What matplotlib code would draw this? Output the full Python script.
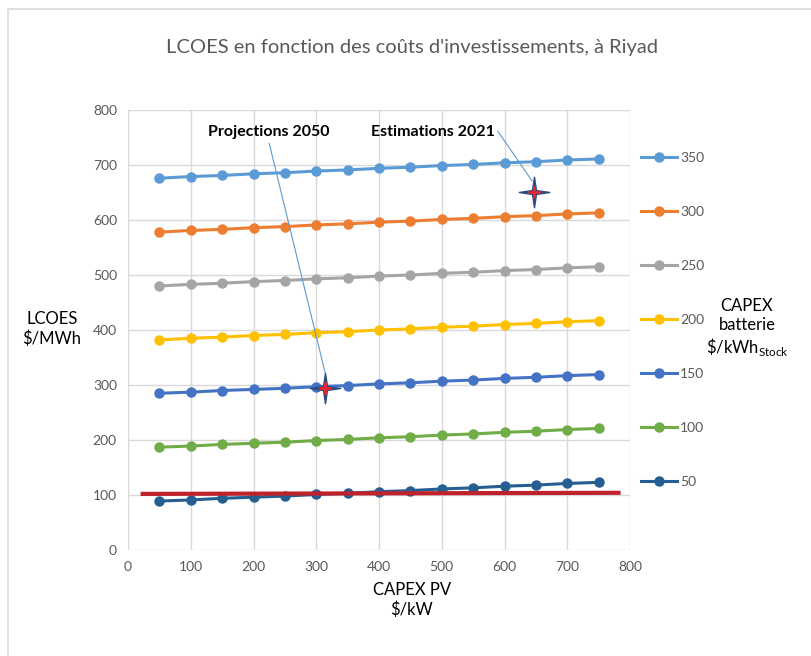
import numpy as np
import matplotlib.pyplot as plt
from matplotlib.path import Path
from matplotlib.patches import Rectangle

plt.rcParams['font.family'] = ['Lato', 'DejaVu Sans']
plt.rcParams['mathtext.fontset'] = 'custom'
plt.rcParams['mathtext.rm'] = 'Lato'

# CAPEX PV ($/kW)
capex_pv = [50, 100, 150, 200, 250, 300, 350, 400, 450, 500, 550, 600, 650, 700, 750]

# LCOES ($/MWh) pour chaque CAPEX batterie ($/kWh stock)
lcoes_350 = [676, 679, 681, 684, 686, 689, 691, 694, 696, 699, 701, 704, 706, 709, 711]
lcoes_300 = [578, 581, 583, 586, 588, 591, 593, 596, 598, 601, 603, 606, 608, 611, 613]
lcoes_250 = [480, 483, 485, 488, 490, 493, 495, 498, 500, 503, 505, 508, 510, 513, 515]
lcoes_200 = [382, 385, 387, 390, 392, 395, 397, 400, 402, 405, 407, 410, 412, 415, 417]
lcoes_150 = [285, 287, 290, 292, 294, 297, 299, 302, 304, 307, 309, 312, 314, 317, 319]
lcoes_100 = [187, 189, 192, 194, 196, 199, 201, 204, 206, 209, 211, 214, 216, 219, 221]
lcoes_50 = [89, 91, 94, 96, 98, 101, 103, 106, 108, 111, 113, 116, 118, 121, 123]

series_labels = ["350", "300", "250", "200", "150", "100", "50"]
series_values = [lcoes_350, lcoes_300, lcoes_250, lcoes_200, lcoes_150, lcoes_100, lcoes_50]
series_colors = ["#5B9BD5", "#ED7D31", "#A5A5A5", "#FFC000", "#4472C4", "#70AD47", "#255E91"]

# ligne de référence (rouge)
ref_x = [20, 785]
ref_y = [102, 104]

# points estimés
pt_2021 = (647, 651)
pt_2050 = (314, 295)

fig = plt.figure(figsize=(8.11, 6.56), dpi=100)
ax = fig.add_axes([128 / 811, 1 - 550 / 656, 502 / 811, 440 / 656])

# cadre de la zone graphique
fig.patches.append(Rectangle((8 / 811, -0.2), 1.5, 1.2 - 9 / 656,
                             transform=fig.transFigure, fill=False,
                             edgecolor="#D9D9D9", linewidth=1.2))

handles = []
for lab, vals, col in zip(series_labels, series_values, series_colors):
    h, = ax.plot(capex_pv, vals, color=col, lw=2.2, marker='o', ms=6.5,
                 label=lab, zorder=3)
    handles.append(h)

ax.plot(ref_x, ref_y, color="#C0222B", lw=3, zorder=4, solid_capstyle='butt')

# étoile à 4 branches
star = Path([(0, 1), (0.13, 0.13), (1, 0), (0.13, -0.13), (0, -1),
             (-0.13, -0.13), (-1, 0), (-0.13, 0.13), (0, 1)],
            [Path.MOVETO] + [Path.LINETO] * 7 + [Path.CLOSEPOLY])
for px, py in [pt_2021, pt_2050]:
    ax.plot(px, py, marker=star, ms=22, color="#2F4E7E", mec="#2F4E7E", zorder=5)
    ax.plot(px, py, marker='+', ms=9, mew=2, color="#E8242C", zorder=6)

ax.annotate("Projections 2050", xy=(pt_2050[0], pt_2050[1] + 28), xytext=(225, 760),
            ha='center', va='center', fontsize=11.5, fontweight='bold',
            arrowprops=dict(arrowstyle='-', color="#5B9BD5", lw=0.8,
                            shrinkA=0, shrinkB=0, relpos=(0.5, -0.3)))
ax.annotate("Estimations 2021", xy=(pt_2021[0] - 3, pt_2021[1] + 20), xytext=(486, 760),
            ha='center', va='center', fontsize=11.5, fontweight='bold',
            arrowprops=dict(arrowstyle='-', color="#5B9BD5", lw=0.8,
                            shrinkA=0, shrinkB=0, relpos=(1.02, 0.6)))

ax.set_xlim(0, 800)
ax.set_ylim(0, 800)
ax.set_xticks(np.arange(0, 801, 100))
ax.set_yticks(np.arange(0, 801, 100))
ax.grid(True, color="#D9D9D9", lw=1)
ax.set_axisbelow(True)
for s in ax.spines.values():
    s.set_visible(False)
ax.tick_params(length=0, labelsize=10, labelcolor="#595959", pad=8)

fig.text(0.508, 1 - 48 / 656, "LCOES en fonction des coûts d'investissements, à Riyad",
         ha='center', va='center', fontsize=14.5, color="#595959")
fig.text(52 / 811, 1 - 329 / 656, "LCOES\n$/MWh", ha='center', va='center',
         fontsize=12, linespacing=1.2)
fig.text(412 / 811, 1 - 600 / 656, "CAPEX PV\n$/kW", ha='center', va='center',
         fontsize=12, linespacing=1.2)
fig.text(747 / 811, 1 - 328 / 656, "CAPEX\nbatterie\n" + r"\$/kWh$_{\mathrm{Stock}}$",
         ha='center', va='center', fontsize=12, linespacing=1.2)

fig.legend(handles=handles, loc='upper left', bbox_to_anchor=(641 / 811, 1 - 152 / 656),
           frameon=False, fontsize=10, labelspacing=3.02, handlelength=2.6,
           handletextpad=0.2, borderpad=0, borderaxespad=0, labelcolor="#595959")

fig.savefig("out.png", dpi=100)
